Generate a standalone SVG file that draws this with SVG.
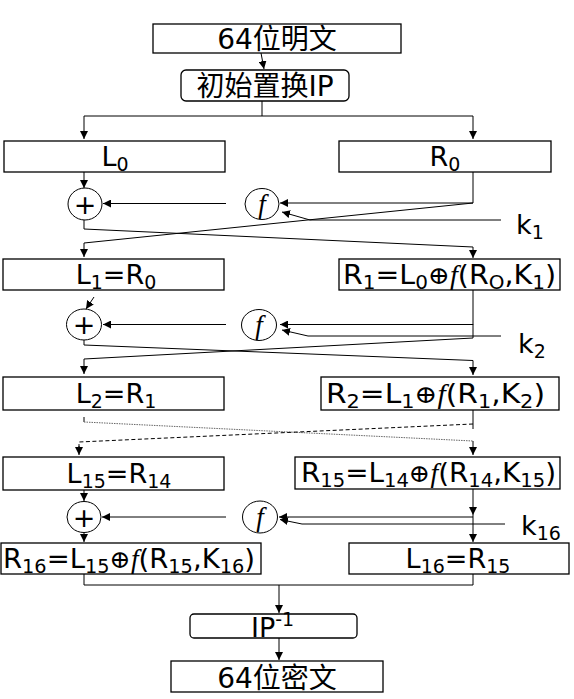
<svg xmlns="http://www.w3.org/2000/svg" width="574" height="699" viewBox="0 0 574 699">
<defs>
<marker id="ah" viewBox="0 0 8 8" refX="8" refY="4" markerWidth="8" markerHeight="8" markerUnits="userSpaceOnUse" orient="auto"><path d="M0,0 L8,4 L0,8 z" fill="#000"/></marker>
</defs>
<style>
.box{fill:#fff;stroke:#000;stroke-width:1.3}
.ln{fill:none;stroke:#000;stroke-width:1}
.ar{fill:none;stroke:#000;stroke-width:1;marker-end:url(#ah)}
.t{font-family:"DejaVu Sans","Noto Sans CJK SC",sans-serif;font-size:27px;fill:#000}
.cjk{font-family:"DejaVu Sans","Noto Sans CJK SC",sans-serif;font-size:28px;fill:#000}
.s{font-size:19px}
.op{font-family:"DejaVu Serif",serif;font-size:25px}
.fi{font-family:"Liberation Serif",serif;font-style:italic;font-size:27px}
.c{fill:#fff;stroke:#000;stroke-width:1}
.plus{font-family:"DejaVu Sans",sans-serif;font-size:27px;fill:#000}
</style>
<rect width="574" height="699" fill="#fff"/>

<g id="connectors">
<path class="ar" d="M261,53 L264,69"/>
<path class="ln" d="M262,101 V116 M84,116 H473"/>
<path class="ar" d="M84,116 V139"/>
<path class="ar" d="M473,116 V139"/>
<path class="ar" d="M84,172 V188"/>
<path class="ar" d="M473,172 V203 H280"/>
<path class="ar" d="M226,203.5 H103"/>
<path class="ar" d="M501,220 H310 L282,212"/>
<path class="ar" d="M84,220 V229 L473,247 V258"/>
<path class="ar" d="M473,203 L84,243 V257"/>
<path class="ar" d="M94,297 L86,309"/>
<path class="ar" d="M473,290 V324.5 H280"/>
<path class="ln" d="M473,324 V338"/>
<path class="ar" d="M226,324.5 H103"/>
<path class="ar" d="M501,336 H308 L282,330"/>
<path class="ar" d="M84,340 V345 L473,360.5 V375"/>
<path class="ar" d="M473,338 L84,359 V374"/>
<path class="ln" d="M473,410 V429"/>
<path class="ln" d="M84,417 V422"/>
<path fill="none" stroke="#666" stroke-width="1" stroke-dasharray="1.5 1" d="M84,422 L473,441"/>
<path class="ar" d="M473,441 V455"/>
<path fill="none" stroke="#000" stroke-width="1" stroke-dasharray="4 2.5" d="M473,424 L79,442 V448"/>
<path class="ar" d="M79,446 V455"/>
<path class="ar" d="M84,483 V501"/>
<path class="ar" d="M473,480 V515"/>
<path class="ar" d="M473,515 V542"/>
<path class="ar" d="M473,517 H279"/>
<path class="ar" d="M226,517 H102"/>
<path class="ar" d="M505,524 H302 L280,519.5"/>
<path class="ar" d="M84,533 V542"/>
<path class="ln" d="M84,566 V585 H473 V574"/>
<path class="ar" d="M279,585 V613"/>
<path class="ar" d="M279,638 V660"/>
</g>

<g id="plain">
<rect class="box" x="153" y="24" width="248" height="29"/>
<text class="cjk" x="277" y="49" text-anchor="middle">64位明文</text>
</g>
<g id="ip">
<rect class="box" x="181" y="70" width="168" height="31" rx="5"/>
<text class="cjk" x="265" y="96" text-anchor="middle">初始置换IP</text>
</g>

<g id="L0">
<rect class="box" x="4" y="141" width="221" height="31"/>
<text class="t" x="115" y="166" text-anchor="middle">L<tspan class="s" dy="5">0</tspan></text>
</g>
<g id="R0">
<rect class="box" x="339" y="141" width="212" height="31"/>
<text class="t" x="445" y="166" text-anchor="middle">R<tspan class="s" dy="5">0</tspan></text>
</g>

<g id="xor1"><ellipse class="c" cx="85" cy="204" rx="17" ry="16"/><text class="plus" x="85" y="213.5" text-anchor="middle">+</text></g>
<g id="f1"><ellipse class="c" cx="262" cy="204" rx="17" ry="15.5"/><text class="fi" x="262" y="213" text-anchor="middle">f</text></g>
<g id="k1"><text class="t" x="516" y="234">k<tspan class="s" dy="5">1</tspan></text></g>

<g id="L1">
<rect class="box" x="3" y="259" width="221" height="31"/>
<text class="t" x="116" y="284" text-anchor="middle">L<tspan class="s" dy="5">1</tspan><tspan dy="-5">=R</tspan><tspan class="s" dy="5">0</tspan></text>
</g>
<g id="R1">
<rect class="box" x="339" y="259" width="221" height="31"/>
<text class="t" x="343" y="284" textLength="213" lengthAdjust="spacingAndGlyphs">R<tspan class="s" dy="5">1</tspan><tspan dy="-5">=L</tspan><tspan class="s" dy="5">0</tspan><tspan class="op" dy="-5">⊕</tspan><tspan class="fi">f</tspan>(R<tspan class="s" dy="5">O</tspan><tspan dy="-5">,K</tspan><tspan class="s" dy="5">1</tspan><tspan dy="-5">)</tspan></text>
</g>

<g id="xor2"><ellipse class="c" cx="84" cy="324.5" rx="17.5" ry="15.5"/><text class="plus" x="84" y="334" text-anchor="middle">+</text></g>
<g id="f2"><ellipse class="c" cx="259" cy="325" rx="17.5" ry="15.5"/><text class="fi" x="259" y="334" text-anchor="middle">f</text></g>
<g id="k2"><text class="t" x="518" y="353">k<tspan class="s" dy="5">2</tspan></text></g>

<g id="L2">
<rect class="box" x="3" y="377" width="221" height="33"/>
<text class="t" x="116" y="403" text-anchor="middle">L<tspan class="s" dy="5">2</tspan><tspan dy="-5">=R</tspan><tspan class="s" dy="5">1</tspan></text>
</g>
<g id="R2">
<rect class="box" x="321" y="377" width="238" height="33"/>
<text class="t" x="326" y="403" textLength="219" lengthAdjust="spacingAndGlyphs">R<tspan class="s" dy="5">2</tspan><tspan dy="-5">=L</tspan><tspan class="s" dy="5">1</tspan><tspan class="op" dy="-5">⊕</tspan><tspan class="fi">f</tspan>(R<tspan class="s" dy="5">1</tspan><tspan dy="-5">,K</tspan><tspan class="s" dy="5">2</tspan><tspan dy="-5">)</tspan></text>
</g>

<g id="L15">
<rect class="box" x="3" y="457" width="221" height="33"/>
<text class="t" x="119" y="483" text-anchor="middle">L<tspan class="s" dy="5">15</tspan><tspan dy="-5">=R</tspan><tspan class="s" dy="5">14</tspan></text>
</g>
<g id="R15">
<rect class="box" x="295" y="457" width="265" height="32"/>
<text class="t" x="301" y="482" textLength="255" lengthAdjust="spacingAndGlyphs">R<tspan class="s" dy="5">15</tspan><tspan dy="-5">=L</tspan><tspan class="s" dy="5">14</tspan><tspan class="op" dy="-5">⊕</tspan><tspan class="fi">f</tspan>(R<tspan class="s" dy="5">14</tspan><tspan dy="-5">,K</tspan><tspan class="s" dy="5">15</tspan><tspan dy="-5">)</tspan></text>
</g>

<g id="xor16"><ellipse class="c" cx="84" cy="517" rx="17" ry="15.5"/><text class="plus" x="84" y="526.5" text-anchor="middle">+</text></g>
<g id="f16"><ellipse class="c" cx="260" cy="517" rx="17.5" ry="16"/><text class="fi" x="260" y="526" text-anchor="middle">f</text></g>
<g id="k16"><text class="t" x="521" y="535">k<tspan class="s" dy="5">16</tspan></text></g>

<g id="R16">
<rect class="box" x="1" y="543" width="260" height="31"/>
<text class="t" x="3" y="568" textLength="252" lengthAdjust="spacingAndGlyphs">R<tspan class="s" dy="5">16</tspan><tspan dy="-5">=L</tspan><tspan class="s" dy="5">15</tspan><tspan class="op" dy="-5">⊕</tspan><tspan class="fi">f</tspan>(R<tspan class="s" dy="5">15</tspan><tspan dy="-5">,K</tspan><tspan class="s" dy="5">16</tspan><tspan dy="-5">)</tspan></text>
</g>
<g id="L16">
<rect class="box" x="349" y="543" width="220" height="31"/>
<text class="t" x="458" y="568" text-anchor="middle">L<tspan class="s" dy="5">16</tspan><tspan dy="-5">=R</tspan><tspan class="s" dy="5">15</tspan></text>
</g>

<g id="ipinv">
<rect class="box" x="190" y="614" width="167" height="24" rx="4"/>
<text class="t" x="251" y="637">IP<tspan class="s" dy="-11">-1</tspan></text>
</g>
<g id="cipher">
<rect class="box" x="171" y="661" width="212" height="31"/>
<text class="cjk" x="277" y="688" text-anchor="middle">64位密文</text>
</g>
</svg>
